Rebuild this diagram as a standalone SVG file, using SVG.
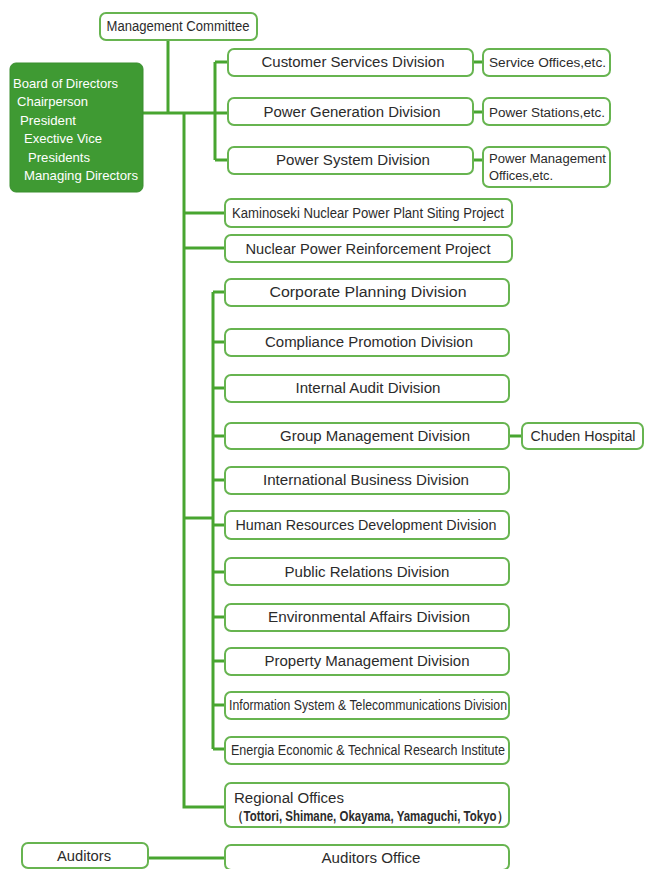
<svg xmlns="http://www.w3.org/2000/svg" width="645" height="869" viewBox="0 0 645 869">
<style>
.b{fill:#fff;stroke:#67b450;stroke-width:2}
.t{font-family:"Liberation Sans",Arial,sans-serif;font-size:14px;fill:#2b2b2b;text-anchor:middle}
.l{font-family:"Liberation Sans",Arial,sans-serif;font-size:14px;fill:#2b2b2b;text-anchor:start}
.s{font-family:"Liberation Sans",Arial,sans-serif;font-size:12.5px;fill:#2b2b2b}
.w{font-family:"Liberation Sans",Arial,sans-serif;font-size:13px;fill:#fff}
.c{fill:none;stroke:#48a530;stroke-width:3}
</style>
<rect width="645" height="869" fill="#fff"/>
<g id="connectors">
<path class="c" d="M168 40V113M143 113H228M184 113V807H225M215 62V160M215 62H228M215 160H228M184 213H225M184 248H225"/>
<path class="c" d="M473 62H483M473 112H483M473 160H483M508 436H522"/>
<path class="c" d="M184 518H213M213 292V749M213 292H225M213 342H225M213 388H225M213 436H225M213 480H225M213 525H225M213 572H225M213 617H225M213 661H225M213 705H225M213 749H225"/>
<path class="c" d="M148 858H225"/>
</g>
<g id="mgmt"><rect class="b" x="100" y="13" width="157" height="27" rx="6"/><text class="t" x="178" y="31" font-size="13" textLength="143" lengthAdjust="spacingAndGlyphs">Management Committee</text></g>
<g id="board"><rect x="10" y="63" width="133" height="129" rx="6" fill="#3f9a33" stroke="#3a8f2f"/>
<text class="w" x="13" y="88" textLength="105" lengthAdjust="spacingAndGlyphs">Board of Directors</text>
<text class="w" x="17" y="106" textLength="71" lengthAdjust="spacingAndGlyphs">Chairperson</text>
<text class="w" x="20" y="125" textLength="56" lengthAdjust="spacingAndGlyphs">President</text>
<text class="w" x="24" y="143" textLength="78" lengthAdjust="spacingAndGlyphs">Exective Vice</text>
<text class="w" x="28" y="162" textLength="62" lengthAdjust="spacingAndGlyphs">Presidents</text>
<text class="w" x="24" y="180" textLength="114" lengthAdjust="spacingAndGlyphs">Managing Directors</text></g>
<g id="csd"><rect class="b" x="228" y="49" width="245" height="27" rx="6"/><text class="t" x="353" y="67" textLength="183" lengthAdjust="spacingAndGlyphs">Customer Services Division</text></g>
<g id="pgd"><rect class="b" x="228" y="98" width="245" height="27" rx="6"/><text class="t" x="352" y="117" textLength="177" lengthAdjust="spacingAndGlyphs">Power Generation Division</text></g>
<g id="psd"><rect class="b" x="228" y="147" width="245" height="27" rx="6"/><text class="t" x="353" y="165" textLength="154" lengthAdjust="spacingAndGlyphs">Power System Division</text></g>
<g id="so"><rect class="b" x="483" y="49" width="127" height="27" rx="6"/><text class="s" x="489" y="67" textLength="117" lengthAdjust="spacingAndGlyphs">Service Offices,etc.</text></g>
<g id="ps"><rect class="b" x="483" y="98" width="127" height="27" rx="6"/><text class="s" x="489" y="117" textLength="116" lengthAdjust="spacingAndGlyphs">Power Stations,etc.</text></g>
<g id="pm"><rect class="b" x="483" y="147" width="127" height="40" rx="6"/><text class="s" x="489" y="163" textLength="117" lengthAdjust="spacingAndGlyphs">Power Management</text><text class="s" x="489" y="180" textLength="64" lengthAdjust="spacingAndGlyphs">Offices,etc.</text></g>
<g id="kam"><rect class="b" x="225" y="199" width="287" height="28" rx="6"/><text class="t" x="368" y="218" font-size="13" textLength="272" lengthAdjust="spacingAndGlyphs">Kaminoseki Nuclear Power Plant Siting Project</text></g>
<g id="npr"><rect class="b" x="225" y="235" width="287" height="27" rx="6"/><text class="t" x="368" y="254" textLength="245" lengthAdjust="spacingAndGlyphs">Nuclear Power Reinforcement  Project</text></g>
<g id="cpd"><rect class="b" x="225" y="279" width="284" height="27" rx="6"/><text class="t" x="368" y="297" textLength="197" lengthAdjust="spacingAndGlyphs">Corporate Planning Division</text></g>
<g id="cmp"><rect class="b" x="225" y="329" width="284" height="27" rx="6"/><text class="t" x="369" y="347" textLength="208" lengthAdjust="spacingAndGlyphs">Compliance Promotion Division</text></g>
<g id="iad"><rect class="b" x="225" y="375" width="284" height="27" rx="6"/><text class="t" x="368" y="393" textLength="145" lengthAdjust="spacingAndGlyphs">Internal Audit Division</text></g>
<g id="gmd"><rect class="b" x="225" y="423" width="284" height="26" rx="6"/><text class="t" x="375" y="441" textLength="190" lengthAdjust="spacingAndGlyphs">Group Management Division</text></g>
<g id="chu"><rect class="b" x="522" y="423" width="121" height="26" rx="6"/><text class="t" x="583" y="441" textLength="105" lengthAdjust="spacingAndGlyphs">Chuden Hospital</text></g>
<g id="ibd"><rect class="b" x="225" y="467" width="284" height="27" rx="6"/><text class="t" x="366" y="485" textLength="206" lengthAdjust="spacingAndGlyphs">International Business Division</text></g>
<g id="hrd"><rect class="b" x="225" y="511" width="284" height="28" rx="6"/><text class="t" x="366" y="530" textLength="261" lengthAdjust="spacingAndGlyphs">Human Resources Development Division</text></g>
<g id="prd"><rect class="b" x="225" y="558" width="284" height="27" rx="6"/><text class="t" x="367" y="577" textLength="165" lengthAdjust="spacingAndGlyphs">Public Relations Division</text></g>
<g id="ead"><rect class="b" x="225" y="604" width="284" height="27" rx="6"/><text class="t" x="369" y="622" textLength="202" lengthAdjust="spacingAndGlyphs">Environmental Affairs Division</text></g>
<g id="pmd"><rect class="b" x="225" y="648" width="284" height="27" rx="6"/><text class="t" x="367" y="666" textLength="205" lengthAdjust="spacingAndGlyphs">Property Management Division</text></g>
<g id="ist"><rect class="b" x="225" y="692" width="284" height="27" rx="6"/><text class="t" x="368" y="710" font-size="12.5" textLength="278" lengthAdjust="spacingAndGlyphs">Information System &amp; Telecommunications Division</text></g>
<g id="eet"><rect class="b" x="225" y="737" width="284" height="27" rx="6"/><text class="t" x="368" y="755" font-size="12.5" textLength="274" lengthAdjust="spacingAndGlyphs">Energia Economic &amp; Technical Research Institute</text></g>
<g id="reg"><rect class="b" x="225" y="783" width="284" height="44" rx="6"/><text class="l" x="234" y="803" textLength="110" lengthAdjust="spacingAndGlyphs">Regional Offices</text><text class="l" x="232" y="821" font-size="11" font-weight="bold" textLength="276" lengthAdjust="spacingAndGlyphs">（Tottori, Shimane, Okayama, Yamaguchi, Tokyo）</text></g>
<g id="aud"><rect class="b" x="22" y="843" width="126" height="25" rx="6"/><text class="t" x="84" y="861" textLength="54" lengthAdjust="spacingAndGlyphs">Auditors</text></g>
<g id="audo"><rect class="b" x="225" y="845" width="284" height="25" rx="6"/><text class="t" x="371" y="863" textLength="99" lengthAdjust="spacingAndGlyphs">Auditors Office</text></g>
</svg>
